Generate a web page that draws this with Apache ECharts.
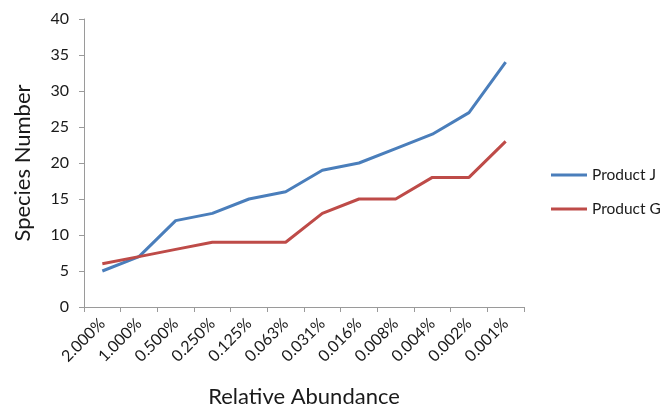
<!DOCTYPE html>
<html>
<head>
<meta charset="utf-8">
<script src="https://cdn.jsdelivr.net/npm/echarts@6/dist/echarts.min.js"></script>
<style>
  html, body { margin: 0; padding: 0; background: #fff; }
  #chart { width: 662px; height: 407px; }
</style>
</head>
<body>
<div id="chart"></div>
<script>
// Relative abundance thresholds (x categories)
const categories = ['2.000%', '1.000%', '0.500%', '0.250%', '0.125%', '0.063%',
                    '0.031%', '0.016%', '0.008%', '0.004%', '0.002%', '0.001%'];
// Species counts per product
const productJ = [5, 7, 12, 13, 15, 16, 19, 20, 22, 24, 27, 34];
const productG = [6, 7, 8, 9, 9, 9, 13, 15, 15, 18, 18, 23];
const seriesNames = ['Product J', 'Product G'];

const font = 'Lato, "Open Sans", sans-serif';
const axisGrey = '#9a9a9a';
const textColor = '#1a1a1a';

const chart = echarts.init(document.getElementById('chart'), null, { renderer: 'canvas' });
chart.setOption({
  animation: false,
  backgroundColor: '#ffffff',
  textStyle: { fontFamily: font, color: textColor },
  grid: { left: 84, right: 138, top: 19, bottom: 100, containLabel: false, outerBoundsMode: 'none' },
  legend: {
    orient: 'vertical',
    left: 551,
    top: 167,
    padding: 0,
    itemGap: 18,
    itemWidth: 36,
    itemHeight: 3,
    icon: 'rect',
    textStyle: { fontFamily: font, fontSize: 15.5, color: textColor },
    data: seriesNames
  },
  xAxis: {
    type: 'category',
    data: categories,
    boundaryGap: true,
    name: 'Relative Abundance',
    nameLocation: 'middle',
    nameGap: 79,
    nameTextStyle: { fontFamily: font, fontSize: 22, color: textColor },
    axisLine: { show: true, lineStyle: { color: axisGrey, width: 1 } },
    axisTick: { show: true, alignWithLabel: false, length: 5, lineStyle: { color: axisGrey } },
    axisLabel: { rotate: 45, fontFamily: font, fontSize: 16, color: textColor, margin: 14, interval: 0 },
    splitLine: { show: false }
  },
  yAxis: {
    type: 'value',
    min: 0,
    max: 40,
    interval: 5,
    name: 'Species Number',
    nameLocation: 'middle',
    nameGap: 50,
    nameRotate: 90,
    nameTextStyle: { fontFamily: font, fontSize: 22, color: textColor },
    axisLine: { show: true, lineStyle: { color: axisGrey, width: 1 } },
    axisTick: { show: true, length: 5, inside: false, lineStyle: { color: axisGrey } },
    axisLabel: { fontFamily: font, fontSize: 16, color: textColor, margin: 15 },
    splitLine: { show: false }
  },
  series: [
    {
      name: seriesNames[0],
      type: 'line',
      data: productJ,
      symbol: 'none',
      lineStyle: { color: '#4a7ebb', width: 3 },
      itemStyle: { color: '#4a7ebb' }
    },
    {
      name: seriesNames[1],
      type: 'line',
      data: productG,
      symbol: 'none',
      lineStyle: { color: '#be4b48', width: 3 },
      itemStyle: { color: '#be4b48' }
    }
  ]
});
</script>
</body>
</html>
